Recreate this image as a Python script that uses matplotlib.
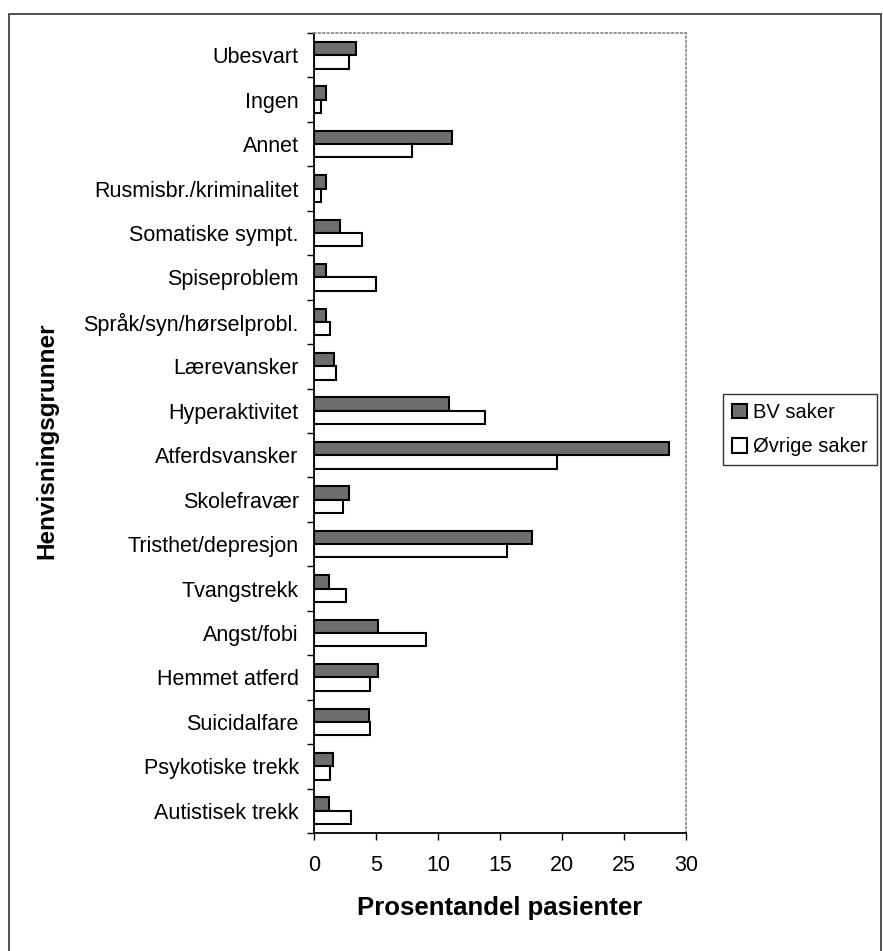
import numpy as np
import matplotlib.pyplot as plt
from matplotlib.patches import Rectangle

plt.rcParams['font.family'] = ['Liberation Sans', 'DejaVu Sans']

# Henvisningsgrunner, listed bottom to top
categories = ['Autistisek trekk', 'Psykotiske trekk', 'Suicidalfare', 'Hemmet atferd',
              'Angst/fobi', 'Tvangstrekk', 'Tristhet/depresjon', 'Skolefravær',
              'Atferdsvansker', 'Hyperaktivitet', 'Lærevansker', 'Språk/syn/hørselprobl.',
              'Spiseproblem', 'Somatiske sympt.', 'Rusmisbr./kriminalitet', 'Annet',
              'Ingen', 'Ubesvart']
bv_saker = [1.2, 1.5, 4.4, 5.2, 5.2, 1.2, 17.6, 2.8, 28.6, 10.9, 1.6, 1.0,
            1.0, 2.1, 1.0, 11.1, 1.0, 3.4]
ovrige_saker = [3.0, 1.3, 4.5, 4.5, 9.0, 2.6, 15.6, 2.3, 19.6, 13.8, 1.8, 1.3,
                5.0, 3.9, 0.6, 7.9, 0.6, 2.8]
x_ticks = [0, 5, 10, 15, 20, 25, 30]

fig = plt.figure(figsize=(8.83, 9.51), dpi=100)
ax = fig.add_axes([314 / 883, 1 - 833 / 951, 372 / 883, 800 / 951])

y = np.arange(len(categories))
h = 0.3
ax.barh(y + h / 2, bv_saker, height=h, color='#6e6e6e', edgecolor='black',
        linewidth=1.5, label='BV saker')
ax.barh(y - h / 2, ovrige_saker, height=h, color='white', edgecolor='black',
        linewidth=1.5, label='Øvrige saker')

ax.set_xlim(0, 30)
ax.set_ylim(-0.5, len(categories) - 0.5)
ax.set_xticks(x_ticks)
ax.set_xticklabels([str(t) for t in x_ticks], fontsize=15.5)
ax.set_yticks(y)
ax.set_yticklabels(categories, fontsize=15.5)
ax.set_yticks(np.arange(len(categories) + 1) - 0.5, minor=True)
ax.tick_params(axis='y', which='major', length=0, pad=11)
ax.tick_params(axis='y', which='minor', length=5, width=1, direction='out')
ax.tick_params(axis='x', length=5, width=1, direction='out', pad=11)

for side in ['top', 'right']:
    ax.spines[side].set_color('#888888')
    ax.spines[side].set_linestyle(':')
    ax.spines[side].set_linewidth(1.2)
for side in ['left', 'bottom']:
    ax.spines[side].set_linewidth(1.3)

ax.set_xlabel('Prosentandel pasienter', fontsize=18.5, fontweight='bold')
ax.xaxis.set_label_coords(0.5, (833 - 908) / 800)
ax.xaxis.label.set_va('center')
ax.set_ylabel('Henvisningsgrunner', fontsize=17.5, fontweight='bold')
ax.yaxis.set_label_coords((47 - 314) / 372, 0.49)
ax.yaxis.label.set_va('center')

leg = fig.legend(loc='upper left', bbox_to_anchor=(723 / 883, 1 - 394 / 951),
                 fontsize=14.5, frameon=True, fancybox=False, edgecolor='black',
                 handlelength=0.75, handleheight=0.75, handletextpad=0.3,
                 borderpad=0.45, borderaxespad=0, labelspacing=0.75)
leg.get_frame().set_linewidth(1.0)

# outer chart border
fig.patches.append(Rectangle((9 / 883, -0.01), 872 / 883, 1 - 14 / 951 + 0.01,
                             transform=fig.transFigure, fill=False,
                             edgecolor='#333333', linewidth=1.2))

fig.savefig('out.png', dpi=100)
